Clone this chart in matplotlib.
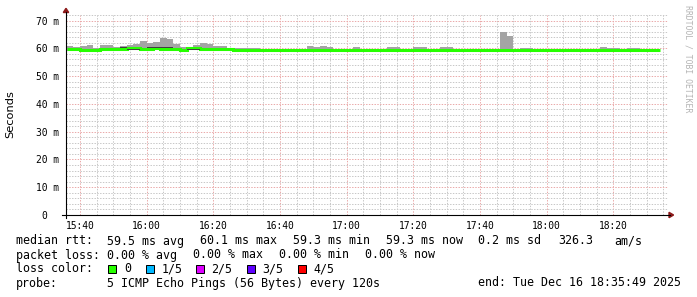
import numpy as np
import matplotlib
matplotlib.use("Agg")
import matplotlib.pyplot as plt
from matplotlib.lines import Line2D
from matplotlib.patches import Rectangle, Polygon

# time window: 3 h ending Tue Dec 16 18:35:49 2025, one value every 120 s
window_start = "15:35:49"
window_end = "18:35:49"
first_step = "15:36"
step_minutes = 2

# median rtt per step (ms)
median_ms = [
    59.8, 59.8, 59.45, 59.45, 59.45, 59.8, 59.8, 59.8, 59.8, 60.0,
    60.0, 59.8, 59.8, 60.1, 59.8, 59.8, 59.6, 59.4, 60.0, 60.0,
    59.8, 59.8, 59.8, 59.8, 59.8, 59.4, 59.4, 59.4, 59.4, 59.4,
    59.4, 59.4, 59.4, 59.4, 59.4, 59.4, 59.4, 59.4, 59.4, 59.4,
    59.3, 59.3, 59.4, 59.4, 59.4, 59.4, 59.4, 59.4, 59.4, 59.4,
    59.4, 59.4, 59.4, 59.4, 59.4, 59.4, 59.4, 59.4, 59.4, 59.4,
    59.4, 59.4, 59.4, 59.4, 59.4, 59.4, 59.4, 59.4, 59.4, 59.4,
    59.4, 59.4, 59.4, 59.4, 59.4, 59.4, 59.4, 59.4, 59.4, 59.4,
    59.4, 59.4, 59.4, 59.4, 59.4, 59.4, 59.4, 59.4, 59.4,
]

# fastest and slowest ping per step (ms), the grey smoke
ping_min_ms = [
    59.2, 59.2, 59.1, 59.1, 59.1, 59.2, 59.2, 59.2, 59.2, 59.3,
    59.3, 59.2, 59.2, 59.3, 59.2, 59.2, 59.1, 59.0, 59.3, 59.3,
    59.2, 59.2, 59.2, 59.2, 59.2, 59.0, 59.0, 59.0, 59.0, 59.0,
    59.0, 59.0, 59.0, 59.0, 59.0, 59.0, 59.0, 59.0, 59.0, 59.0,
    58.9, 58.9, 59.0, 59.0, 59.0, 59.0, 59.0, 59.0, 59.0, 59.0,
    59.0, 59.0, 59.0, 59.0, 59.0, 59.0, 59.0, 59.0, 59.0, 59.0,
    59.0, 59.0, 59.0, 59.0, 59.0, 59.0, 59.0, 59.0, 59.0, 59.0,
    59.0, 59.0, 59.0, 59.0, 59.0, 59.0, 59.0, 59.0, 59.0, 59.0,
    59.0, 59.0, 59.0, 59.0, 59.0, 59.0, 59.0, 59.0, 59.0,
]
ping_max_ms = [
    60.7, 60.5, 60.8, 61.1, 60.3, 61.3, 61.1, 60.5, 61.0, 61.2,
    61.4, 62.5, 61.9, 62.3, 63.7, 63.3, 61.6, 60.5, 60.5, 61.2,
    61.9, 61.5, 60.7, 60.7, 60.3, 60.2, 60.1, 60.1, 60.0, 59.7,
    59.7, 59.7, 59.7, 59.7, 59.7, 59.7, 60.8, 60.5, 60.8, 60.4,
    59.6, 59.6, 59.6, 60.5, 59.7, 59.7, 59.7, 59.7, 60.5, 60.5,
    59.7, 59.7, 60.5, 60.4, 59.7, 59.7, 60.5, 60.4, 59.7, 59.7,
    59.7, 59.7, 59.7, 59.7, 59.7, 65.9, 64.5, 59.7, 60.3, 60.2,
    59.7, 59.7, 59.7, 59.7, 59.7, 59.7, 59.7, 59.7, 59.7, 59.7,
    60.6, 60.1, 60.1, 59.7, 60.2, 60.2, 59.7, 59.7, 59.7,
]

# denser smoke right around the median
dark_steps = [8, 9, 10, 12, 13, 14, 15, 18, 19]
dark_lo_ms = [60.2, 59.35, 59.35, 60.2, 60.2, 60.2, 60.2, 59.35, 59.35]
dark_hi_ms = [60.5, 59.7, 59.7, 60.5, 60.6, 60.5, 60.5, 59.7, 59.7]

x_tick_labels = ["15:40", "16:00", "16:20", "16:40", "17:00", "17:20", "17:40", "18:00", "18:20"]
y_ticks = [0, 10, 20, 30, 40, 50, 60, 70]
y_tick_labels = ["0  ", "10 m", "20 m", "30 m", "40 m", "50 m", "60 m", "70 m"]
y_top = 72

loss_labels = ["0", "1/5", "2/5", "3/5", "4/5"]
loss_colors = ["#26ff00", "#00b8ff", "#dd00ff", "#5e00ff", "#ff0000"]

rtt_line = ["median rtt:", "59.5 ms avg", "60.1 ms max", "59.3 ms min",
            "59.3 ms now", "0.2 ms sd", "326.3", "am/s"]
loss_line = ["packet loss:", "0.00 % avg", "0.00 % max", "0.00 % min", "0.00 % now"]
probe_line = ["probe:", "5 ICMP Echo Pings (56 Bytes) every 120s",
              "end: Tue Dec 16 18:35:49 2025"]


def to_min(s):
    parts = [int(p) for p in s.split(":")]
    m = parts[0] * 60 + parts[1]
    if len(parts) > 2:
        m += parts[2] / 60
    return m


W, H = 697, 297
MONO = "DejaVu Sans Mono"


def fx(x):
    return x / W


def fy(y):
    return 1 - y / H


fig = plt.figure(figsize=(W / 100, H / 100), dpi=100)
fig.patch.set_facecolor("white")
# plot area: 600 x 200 px, origin at (66, 215)
ax = fig.add_axes([fx(66), fy(215), 600 / W, 200 / H])
ax.set_facecolor("white")

x0, x1 = to_min(window_start), to_min(window_end)
ax.set_xlim(x0, x1)
ax.set_ylim(0, y_top)

n = len(median_ms)
edges = to_min(first_step) + step_minutes * np.arange(n + 1)

# grid (dotted, minor grey, major pinkish red)
grid_grey = "#c8c8c8"
grid_red = "#eaaaaa"
dash = (0, (1.4, 1.4))
major_x = [to_min(t) for t in x_tick_labels]
minor_x = np.arange(major_x[0], x1, 5)
for xv in minor_x:
    is_major = any(abs(xv - m) < 1e-6 for m in major_x)
    ax.axvline(xv, color=grid_red if is_major else grid_grey, lw=0.72,
               linestyle=dash, zorder=0.5)
for yv in range(2, y_top + 1, 2):
    is_major = yv % 10 == 0
    ax.axhline(yv, xmin=0, xmax=1.0035, color=grid_red if is_major else grid_grey,
               lw=0.72, linestyle=dash, zorder=0.5, clip_on=False)

# smoke
ax.stairs(ping_max_ms, edges, baseline=ping_min_ms, fill=True,
          color="#a4a4a4", lw=0, zorder=2)

# median line, loss 0 -> green
ax.stairs(median_ms, edges, baseline=None, color=loss_colors[0], lw=2.2, zorder=3)

dark_left = [edges[i] for i in dark_steps]
ax.bar(dark_left, np.array(dark_hi_ms) - np.array(dark_lo_ms), bottom=dark_lo_ms,
       width=step_minutes, align="edge", color="#404040", lw=0, zorder=4)

for s in ax.spines.values():
    s.set_visible(False)

ax.set_xticks(major_x)
ax.set_xticklabels(x_tick_labels, fontfamily=MONO, fontsize=6.9)
ax.set_yticks(y_ticks)
ax.set_yticklabels(y_tick_labels, fontfamily=MONO, fontsize=6.9)
ax.tick_params(axis="x", length=0, pad=4)
ax.tick_params(axis="y", length=0, pad=5)

# axes lines and arrows
axis_col = "#000000"
arrow_col = "#8c1a1a"
fig.add_artist(Line2D([fx(62), fx(670)], [fy(215), fy(215)], color=axis_col,
                      lw=0.8, transform=fig.transFigure))
fig.add_artist(Line2D([fx(66), fx(66)], [fy(218), fy(12)], color=axis_col,
                      lw=0.8, transform=fig.transFigure))
fig.add_artist(Polygon([(fx(63.3), fy(12.5)), (fx(68.7), fy(12.5)), (fx(66), fy(8.3))],
                       closed=True, color=arrow_col, transform=fig.transFigure))
fig.add_artist(Polygon([(fx(669), fy(212.3)), (fx(669), fy(217.7)), (fx(673.6), fy(215))],
                       closed=True, color=arrow_col, transform=fig.transFigure))

fig.text(fx(10.5), fy(114), "Seconds", rotation=90, ha="center", va="center",
         fontsize=8.2, family="DejaVu Sans")
fig.text(fx(688), fy(5), "RRDTOOL / TOBI OETIKER", rotation=270, ha="center",
         va="top", fontsize=5.9, family=MONO, color="#b4b4b4")

# legend block
leg_fs = 8.35
rtt_x = [16, 107.3, 200, 292.7, 386, 478, 558.3, 614.3]
for txt, x in zip(rtt_line, rtt_x):
    fig.text(fx(x), fy(244.5), txt, fontsize=leg_fs, family=MONO, va="baseline")
loss_x = [16, 107.3, 193.3, 279.3, 365]
for txt, x in zip(loss_line, loss_x):
    fig.text(fx(x), fy(258.5), txt, fontsize=leg_fs, family=MONO, va="baseline")

fig.text(fx(16), fy(272.5), "loss color:", fontsize=leg_fs, family=MONO, va="baseline")
box_x = [108.3, 145.7, 195.7, 246.7, 297.7]
for lab, col, bx in zip(loss_labels, loss_colors, box_x):
    fig.add_artist(Rectangle((fx(bx), fy(272.7)), 8 / W, 8 / H, facecolor=col,
                             edgecolor="black", lw=0.72, transform=fig.transFigure))
    fig.text(fx(bx + 15.5), fy(272.5), lab, fontsize=leg_fs, family=MONO, va="baseline")

probe_x = [16, 107.3, 478.3]
for txt, x in zip(probe_line, probe_x):
    fig.text(fx(x), fy(286.5), txt, fontsize=leg_fs, family=MONO, va="baseline")

fig.savefig("out.png", dpi=100, facecolor="white")
